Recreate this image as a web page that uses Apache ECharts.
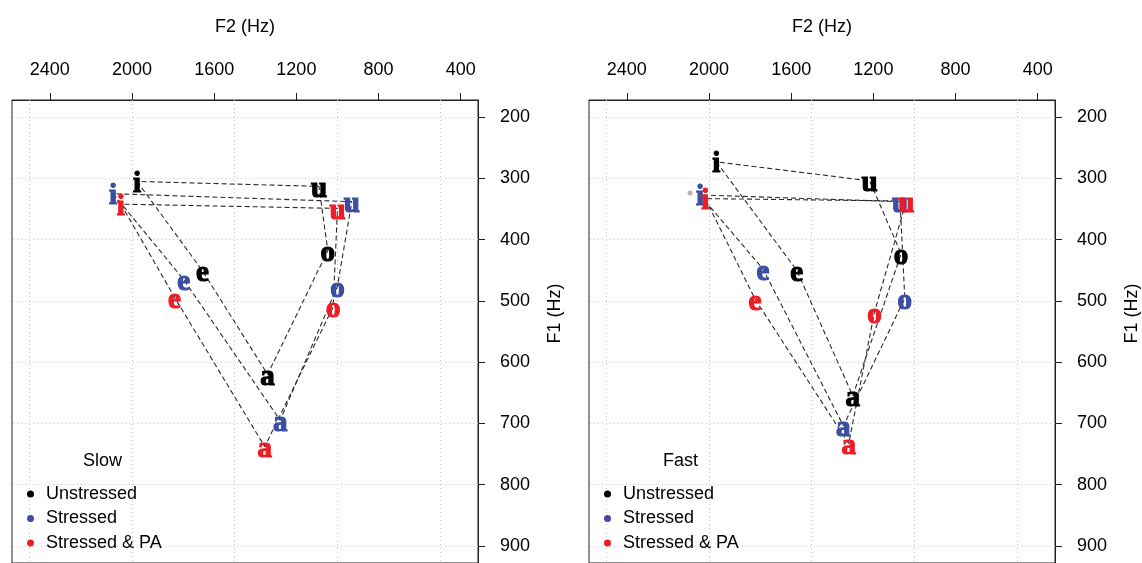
<!DOCTYPE html>
<html>
<head>
<meta charset="utf-8">
<script src="https://cdn.jsdelivr.net/npm/echarts@6/dist/echarts.min.js"></script>
<style>
html, body { margin: 0; padding: 0; background: #fff; }
#main { width: 1142px; height: 563px; }
</style>
</head>
<body>
<div id="main"></div>
<script>
// vowel order, polygon is drawn i-e-a-o-u-i
const vowels = ['i', 'e', 'a', 'o', 'u'];

// Slow speech (F2, F1 in Hz)
const slowUnstressedF2 = [1975, 1657, 1340, 1047, 1090];
const slowUnstressedF1 = [305, 451, 620, 418, 313];
const slowStressedF2 = [2092, 1749, 1279, 1000, 930];
const slowStressedF1 = [325, 465, 695, 476, 338];
const slowPaF2 = [2054, 1793, 1354, 1021, 1000];
const slowPaF1 = [342, 494, 738, 510, 349];

// Fast speech
const fastUnstressedF2 = [1964, 1573, 1300, 1065, 1218];
const fastUnstressedF1 = [273, 450, 655, 423, 304];
const fastStressedF2 = [2044, 1737, 1346, 1047, 1070];
const fastStressedF1 = [327, 448, 704, 496, 338];
const fastPaF2 = [2018, 1776, 1320, 1195, 1040];
const fastPaF1 = [333, 497, 733, 519, 337];
const fastStray = [2092, 324];

const groups = ['Unstressed', 'Stressed', 'Stressed & PA'];
const colors = ['#000000', '#3b4ea3', '#ee1c25'];

const f2Ticks = [2400, 2000, 1600, 1200, 800, 400];
const f1Ticks = [200, 300, 400, 500, 600, 700, 800, 900];
const f2Grid = [2500, 2000, 1500, 1000, 500];

const sans = 'Liberation Sans, Arial, sans-serif';

function pts(f2, f1) {
    return f2.map((v, k) => [v, f1[k], vowels[k]]);
}

function panelSeries(idx, sets) {
    let out = [];
    sets.forEach((s, g) => {
        let p = pts(s[0], s[1]);
        let line = {
            type: 'line',
            name: 'poly' + idx + g,
            xAxisIndex: idx,
            yAxisIndex: idx,
            data: p.concat([p[0]]),
            symbol: 'none',
            silent: true,
            z: 2,
            lineStyle: { color: '#2a2a2a', width: 1.1, type: [5, 3] }
        };
        if (g == 0) {
            line.markLine = {
                silent: true,
                symbol: 'none',
                z: 1,
                animation: false,
                label: { show: false },
                lineStyle: { color: '#c8c8c8', width: 1, type: [1, 3] },
                data: f2Grid.map(v => ({ xAxis: v })).concat(f1Ticks.map(v => ({ yAxis: v })))
            };
        }
        out.push(line);
    });
    sets.forEach((s, g) => {
        out.push({
            type: 'scatter',
            name: groups[g],
            xAxisIndex: idx,
            yAxisIndex: idx,
            data: pts(s[0], s[1]),
            symbolSize: 0,
            z: 3,
            itemStyle: { color: colors[g], opacity: 1 },
            emphasis: { disabled: true },
            label: {
                show: true,
                position: 'inside',
                offset: [0, 3],
                formatter: p => p.data[2],
                fontFamily: '"Liberation Serif", "Times New Roman", serif',
                fontWeight: 'bold',
                fontSize: 29,
                color: colors[g],
                textBorderColor: colors[g],
                textBorderWidth: 1.2
            }
        });
    });
    return out;
}

function xAxis(idx) {
    return {
        gridIndex: idx,
        type: 'value',
        position: 'top',
        inverse: true,
        min: 316,
        max: 2584,
        name: 'F2 (Hz)',
        nameLocation: 'middle',
        nameGap: 64,
        nameTextStyle: { fontSize: 18, color: '#000', fontFamily: sans },
        axisLine: { show: true, lineStyle: { color: '#222' } },
        axisTick: { show: true, inside: false, length: 7, customValues: f2Ticks, lineStyle: { color: '#222' } },
        axisLabel: { customValues: f2Ticks, formatter: v => String(v), margin: 21, fontSize: 18, color: '#000', fontFamily: sans },
        splitLine: { show: false }
    };
}

function yAxis(idx) {
    return {
        gridIndex: idx,
        type: 'value',
        position: 'right',
        inverse: true,
        min: 172,
        max: 928,
        name: 'F1 (Hz)',
        nameLocation: 'middle',
        nameRotate: 90,
        nameGap: 68,
        nameTextStyle: { fontSize: 18, color: '#000', fontFamily: sans, padding: [0, 0, 0, 36] },
        axisLine: { show: true, lineStyle: { color: '#222' } },
        axisTick: { show: true, inside: false, length: 7, customValues: f1Ticks, lineStyle: { color: '#222' } },
        axisLabel: { customValues: f1Ticks, formatter: v => String(v), margin: 22, fontSize: 18, color: '#000', fontFamily: sans },
        splitLine: { show: false }
    };
}

function legend(left) {
    return {
        data: groups,
        orient: 'vertical',
        left: left,
        top: 484,
        padding: 0,
        icon: 'circle',
        itemWidth: 7,
        itemHeight: 7,
        itemGap: 4.5,
        selectedMode: false,
        itemStyle: { opacity: 1 },
        textStyle: { fontSize: 18, lineHeight: 20, color: '#000', fontFamily: sans, padding: [0, 0, 0, 7] }
    };
}

function title(text, left) {
    return {
        text: text,
        left: left,
        top: 452,
        padding: 0,
        textStyle: { fontSize: 18, fontWeight: 'normal', color: '#000', fontFamily: sans }
    };
}

let series = panelSeries(0, [
    [slowUnstressedF2, slowUnstressedF1],
    [slowStressedF2, slowStressedF1],
    [slowPaF2, slowPaF1]
]).concat(panelSeries(1, [
    [fastUnstressedF2, fastUnstressedF1],
    [fastStressedF2, fastStressedF1],
    [fastPaF2, fastPaF1]
]));

series.push({
    type: 'scatter',
    name: 'stray',
    xAxisIndex: 1,
    yAxisIndex: 1,
    data: [fastStray],
    symbolSize: 5,
    z: 2,
    itemStyle: { color: '#b4b4b4', opacity: 1 }
});

let option = {
    animation: false,
    backgroundColor: '#fff',
    title: [title('Slow', 83), title('Fast', 663)],
    legend: [legend(27), legend(604)],
    grid: [
        { left: 12, top: 100, width: 466, height: 468, show: true, borderColor: '#222', borderWidth: 1 },
        { left: 589, top: 100, width: 466, height: 468, show: true, borderColor: '#222', borderWidth: 1 }
    ],
    xAxis: [xAxis(0), xAxis(1)],
    yAxis: [yAxis(0), yAxis(1)],
    series: series
};

let chart = echarts.init(document.getElementById('main'));
chart.setOption(option);
</script>
</body>
</html>
